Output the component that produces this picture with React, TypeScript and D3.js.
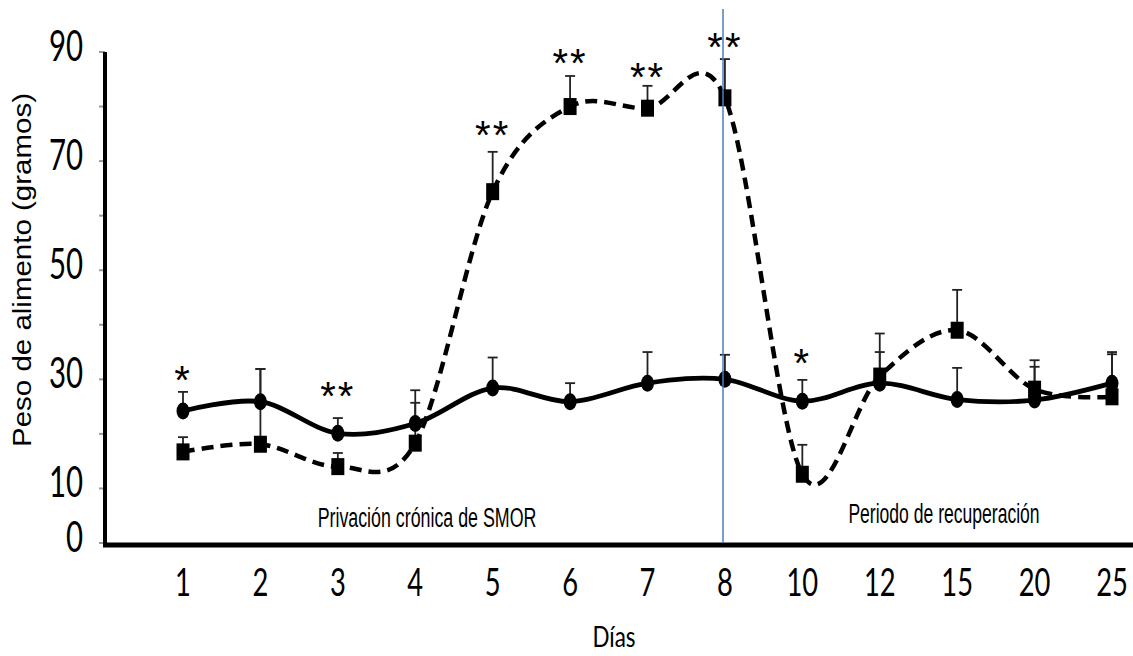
import React from 'react'
import * as d3 from 'd3'

// days on the x axis (categorical)
const days = ['1', '2', '3', '4', '5', '6', '7', '8', '10', '12', '15', '20', '25']

// control group (solid line, circles)
const controlMean = [24.2, 25.9, 20.1, 21.9, 28.4, 25.9, 29.3, 30.0, 26.0, 29.3, 26.3, 26.2, 29.3]
const controlErr = [3.5, 6.0, 2.8, 6.1, 5.6, 3.4, 5.7, 4.5, 3.9, 5.7, 5.8, 6.1, 5.3]

// SMOR deprived group (dashed line, squares)
const smorMean = [16.7, 18.1, 14.0, 18.3, 64.4, 80.0, 79.7, 81.6, 12.6, 30.6, 39.0, 28.2, 26.8]
const smorErr = [2.7, 13.8, 2.5, 7.4, 7.3, 5.6, 4.1, 7.1, 5.4, 7.8, 7.4, 5.3, 8.2]

// significance marks
const starDays = ['1', '3', '5', '6', '7', '8', '10']
const starText = ['*', '**', '**', '**', '**', '**', '*']
const starLevel = [31.3, 28.4, 76.3, 89.4, 86.8, 92.3, 34.5]

const yTickLabels = [0, 10, 30, 50, 70, 90]
const yMinorTicks = [0, 10, 20, 30, 40, 50, 60, 70, 80, 90]

const width = 1133
const height = 656
const sans = "'Liberation Sans', Arial, sans-serif"
const lato = "Lato, 'Liberation Sans', sans-serif"

// condensed looking text: regular font squeezed horizontally
function Narrow(props: { x: number, y: number, sx: number, size: number, anchor?: string, font?: string, children: React.ReactNode }) {
    return (
        <text transform={`translate(${props.x},${props.y}) scale(${props.sx},1)`} textAnchor={props.anchor || 'middle'}
            fontFamily={props.font || sans} fontSize={props.size} fill="#000">{props.children}</text>
    )
}

export default function App() {
    const x = d3.scalePoint<string>().domain(days).range([183, 1112])
    const y = d3.scaleLinear().domain([0, 90]).range([543, 52])
    const axisY = 545
    const axisX = 105

    const line = d3.line<number>()
        .curve(d3.curveCardinal.tension(0))
        .x((_, i) => x(days[i]) as number)
        .y(d => y(d))

    const errorBars = (means: number[], errs: number[], key: string) =>
        means.map((m, i) => {
            const cx = x(days[i]) as number
            const top = y(m + errs[i])
            return (
                <g key={key + i} stroke="#222" strokeWidth={1.8}>
                    <line x1={cx} x2={cx} y1={y(m)} y2={top} />
                    <line x1={cx - 5} x2={cx + 5} y1={top} y2={top} />
                </g>
            )
        })

    return (
        <svg width={width} height={height} style={{ position: 'absolute', left: 0, top: 0, background: '#fff' }}>
            {/* y axis ticks */}
            {yMinorTicks.map(t => (
                <line key={'mt' + t} x1={axisX - 6} x2={axisX} y1={y(t)} y2={y(t)} stroke="#999" strokeWidth={2} />
            ))}
            {yTickLabels.map(t => (
                <Narrow key={'yl' + t} x={83} y={y(t) + 9} sx={0.7} size={42} anchor="end" font={lato}>{t}</Narrow>
            ))}
            <line x1={axisX} x2={axisX} y1={y(90)} y2={axisY} stroke="#000" strokeWidth={4} />
            <line x1={axisX - 2} x2={width} y1={axisY} y2={axisY} stroke="#000" strokeWidth={5} />

            {/* x tick labels */}
            {days.map(d => (
                <Narrow key={'xl' + d} x={x(d) as number} y={596} sx={0.72} size={38} font={lato}>{d}</Narrow>
            ))}

            {/* axis titles */}
            <Narrow x={614} y={647} sx={0.8} size={28} font={lato}>Días</Narrow>
            <text transform="translate(31,270) rotate(-90)" textAnchor="middle" fontFamily={sans} fontSize={25}
                textLength={354} lengthAdjust="spacingAndGlyphs" fill="#000">Peso de alimento (gramos)</text>

            {/* period labels */}
            <Narrow x={427} y={527} sx={0.66} size={27}>Privación crónica de SMOR</Narrow>
            <Narrow x={944} y={523} sx={0.65} size={27}>Periodo de recuperación</Narrow>

            {/* error bars */}
            {errorBars(controlMean, controlErr, 'ce')}
            {errorBars(smorMean, smorErr, 'se')}

            {/* lines */}
            <path d={line(smorMean) || ''} fill="none" stroke="#000" strokeWidth={4.5} strokeDasharray="12 7" />
            <path d={line(controlMean) || ''} fill="none" stroke="#000" strokeWidth={4.8} />

            {/* markers */}
            {controlMean.map((m, i) => (
                <ellipse key={'c' + i} cx={x(days[i])} cy={y(m)} rx={6.5} ry={8.5} fill="#000" />
            ))}
            {smorMean.map((m, i) => (
                <rect key={'s' + i} x={(x(days[i]) as number) - 6.5} y={y(m) - 8.5} width={13} height={17} fill="#000" />
            ))}

            {/* separation between deprivation and recovery */}
            <line x1={723} x2={723} y1={9} y2={axisY - 2} stroke="#4a7ebb" strokeWidth={1.5} />

            {/* asterisks */}
            {starDays.map((d, i) => (
                <text key={'st' + d} x={x(d)} y={y(starLevel[i]) + 22} textAnchor="middle" fontFamily={sans}
                    fontSize={40} letterSpacing={2} fill="#000">{starText[i]}</text>
            ))}
        </svg>
    )
}
